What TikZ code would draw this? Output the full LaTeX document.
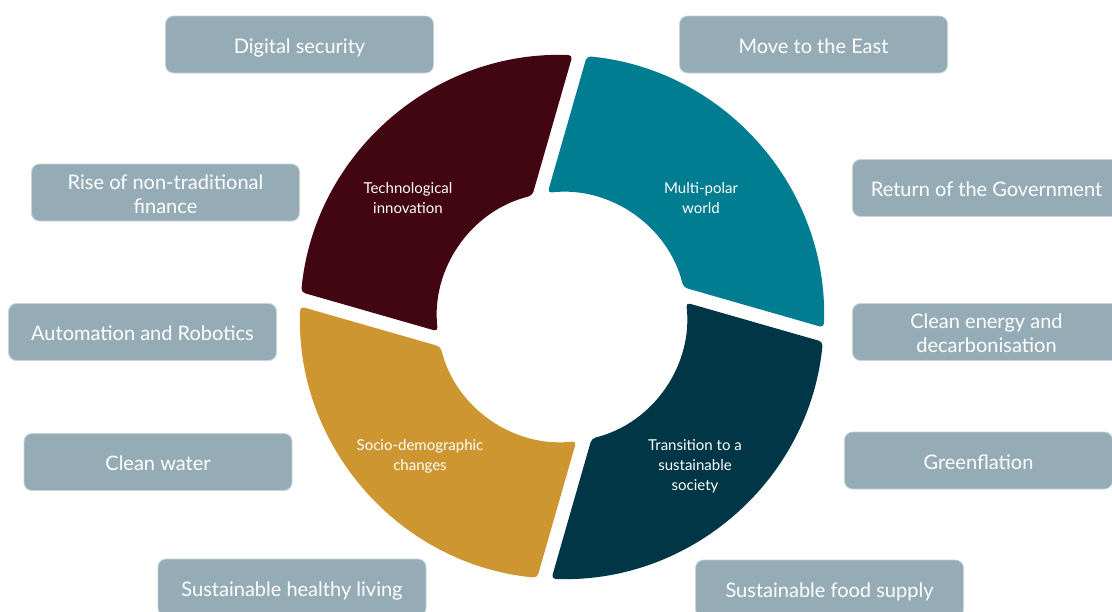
\documentclass[tikz,border=0pt]{standalone}
\usepackage{fontspec}
\setmainfont{Lato}
\usetikzlibrary{calc}
\definecolor{boxc}{RGB}{149,172,183}
\definecolor{boxe}{RGB}{200,212,218}
\definecolor{segmaroon}{RGB}{66,5,18}
\definecolor{segteal}{RGB}{0,125,145}
\definecolor{segnavy}{RGB}{1,54,70}
\definecolor{seggold}{RGB}{206,150,48}
\newcommand\bxtext[2][0]{\raisebox{\dimexpr-8.7pt+#1pt\relax}[0pt][0pt]{\begin{tabular}[t]{@{}c@{}}#2\end{tabular}}}
\begin{document}
\begin{tikzpicture}[x=1pt,y=-1pt,
  topic/.style={fill=boxc, draw=boxe, line width=0.8pt, rounded corners=8pt,
    minimum width=268pt, minimum height=57pt, text=white,
    font=\fontsize{20}{24}\selectfont, inner sep=0pt},
  seglabel/.style={text=white, font=\fontsize{15}{20}\selectfont, align=center, inner sep=0pt}]
\fill[white] (0,0) rectangle (1112,611);
\useasboundingbox (0,0) rectangle (1112,611);
\coordinate (O) at (562,317);
% donut segments (angles given y-up, negated for the flipped y axis)
\foreach \col/\b in {segmaroon/0, segteal/-90, segnavy/-180, seggold/-270}{
  \pgfmathsetmacro{\oa}{-(87.69+\b)}
  \pgfmathsetmacro{\ob}{-(174.56+\b)}
  \pgfmathsetmacro{\ia}{-(186.59+\b)}
  \pgfmathsetmacro{\ib}{-(103.74+\b)}
  \fill[\col, rounded corners=4pt]
    ($(O)+(\oa:262)$) arc[start angle=\oa, end angle=\ob, radius=262]
    -- ($(O)+(\ia:125)$) arc[start angle=\ia, end angle=\ib, radius=125]
    -- cycle;
}
\node[seglabel] (tech) at (408,198) {Technological\\innovation};
\node[seglabel] (multi) at (701,198) {Multi-polar\\world};
\node[seglabel] (socio) at (420,456) {Socio-demographic\\changes};
\node[seglabel] (trans) at (695,466) {Transition to a\\sustainable\\society};
% topic boxes
\node[topic] (digital) at (299.5,44.5) {\bxtext{Digital security}};
\node[topic] (east) at (813.5,44.5) {\bxtext{Move to the East}};
\node[topic] (rise) at (165.5,192.5) {\bxtext[12]{Rise of non-traditional\\finance}};
\node[topic] (gov) at (986.5,188) {\bxtext{Return of the Government}};
\node[topic] (energy) at (986.5,332) {\bxtext[12]{Clean energy and\\decarbonisation}};
\node[topic] (auto) at (142.5,332) {\bxtext{Automation and Robotics}};
\node[topic] (green) at (978.5,460.5) {\bxtext{Greenflation}};
\node[topic] (water) at (158,462) {\bxtext{Clean water}};
\node[topic] (living) at (292,587.5) {\bxtext{Sustainable healthy living}};
\node[topic] (food) at (829.5,588.5) {\bxtext{Sustainable food supply}};
\end{tikzpicture}
\end{document}
